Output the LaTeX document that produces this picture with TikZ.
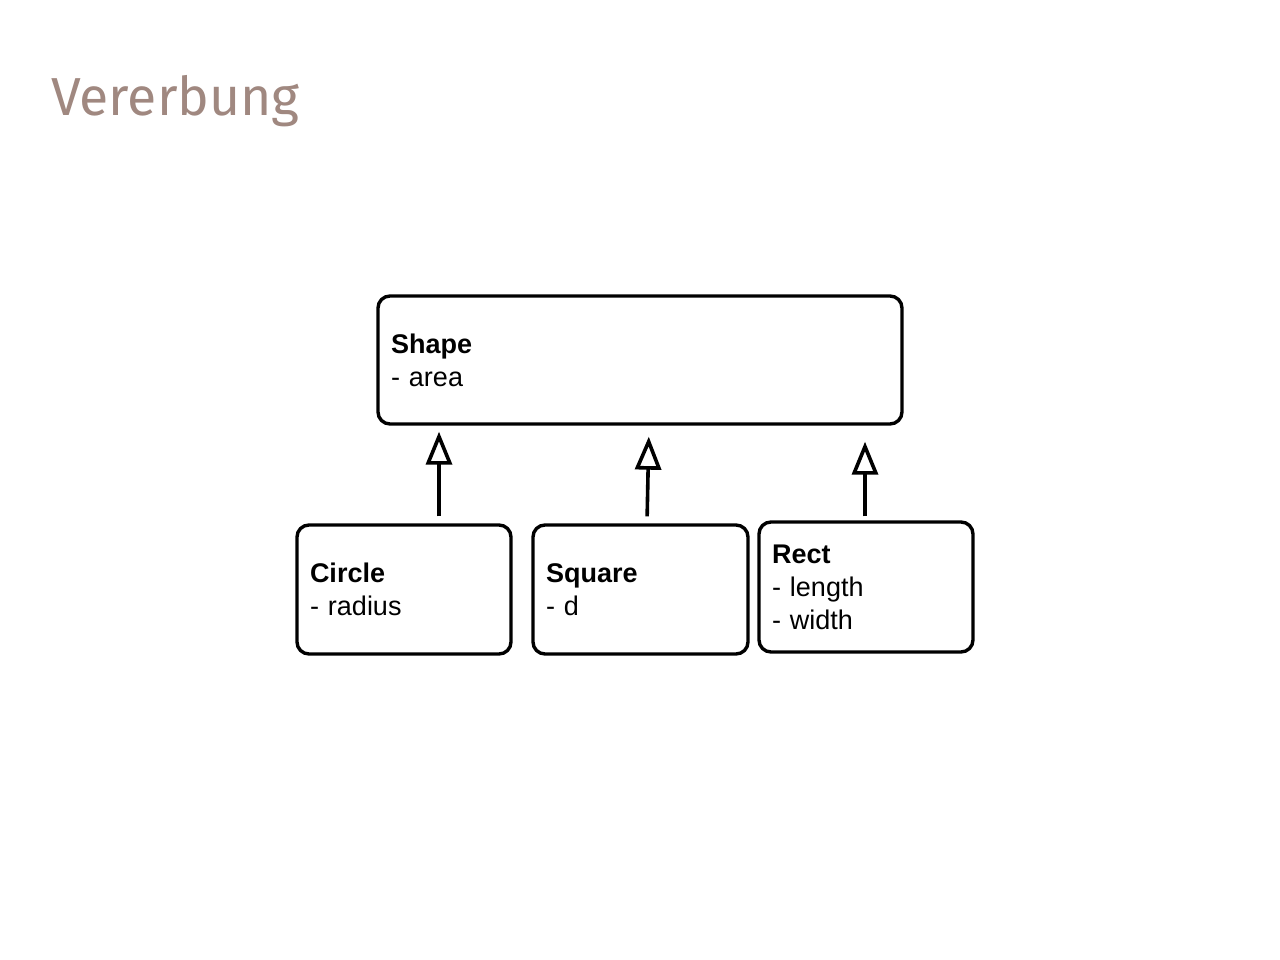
\documentclass[tikz,border=0pt]{standalone}
\usepackage{fontspec}
\setmainfont{Liberation Sans}
\newfontfamily\titlefont{Fira Sans}
\usetikzlibrary{arrows.meta}
\definecolor{titlecol}{RGB}{160,136,128}
\tikzset{
  classbox/.style={draw=black, line width=3.4pt, rounded corners=12pt, align=left,
    inner xsep=13pt, inner ysep=0pt, font=\fontsize{27}{33}\selectfont},
  inh/.style={line width=3.6pt, -{Triangle[open, length=33pt, width=26pt]}}
}
\begin{document}
\begin{tikzpicture}[x=1pt,y=-1pt]
\useasboundingbox[fill=white] (0,0) rectangle (1280,960);
\node[anchor=base west, text=titlecol, font=\titlefont\fontsize{53.5}{60}\selectfont, inner sep=0pt] (title) at (51,116) {Vererbung};
\node[classbox, text width=498pt, minimum height=128pt] (shape) at (640,360) {\textbf{Shape}\\- area};
\node[classbox, text width=188pt, minimum height=129pt] (circ) at (404,589.5) {\textbf{Circle}\\- radius};
\node[classbox, text width=189pt, minimum height=129pt] (sq) at (640.5,589.5) {\textbf{Square}\\- d};
\node[classbox, text width=188pt, minimum height=130pt] (rect) at (866,587) {\textbf{Rect}\\- length\\- width};
\coordinate (x1) at (439,0);
\coordinate (x2a) at (647,0);
\coordinate (x2b) at (649,0);
\coordinate (x3) at (865,0);
\draw[inh, shorten <=7pt, shorten >=6pt] (circ.north -| x1) -- (shape.south -| x1);
\draw[inh, shorten <=7pt, shorten >=11pt] (sq.north -| x2a) -- (shape.south -| x2b);
\draw[inh, shorten <=4pt, shorten >=16pt] (rect.north -| x3) -- (shape.south -| x3);
\end{tikzpicture}
\end{document}
